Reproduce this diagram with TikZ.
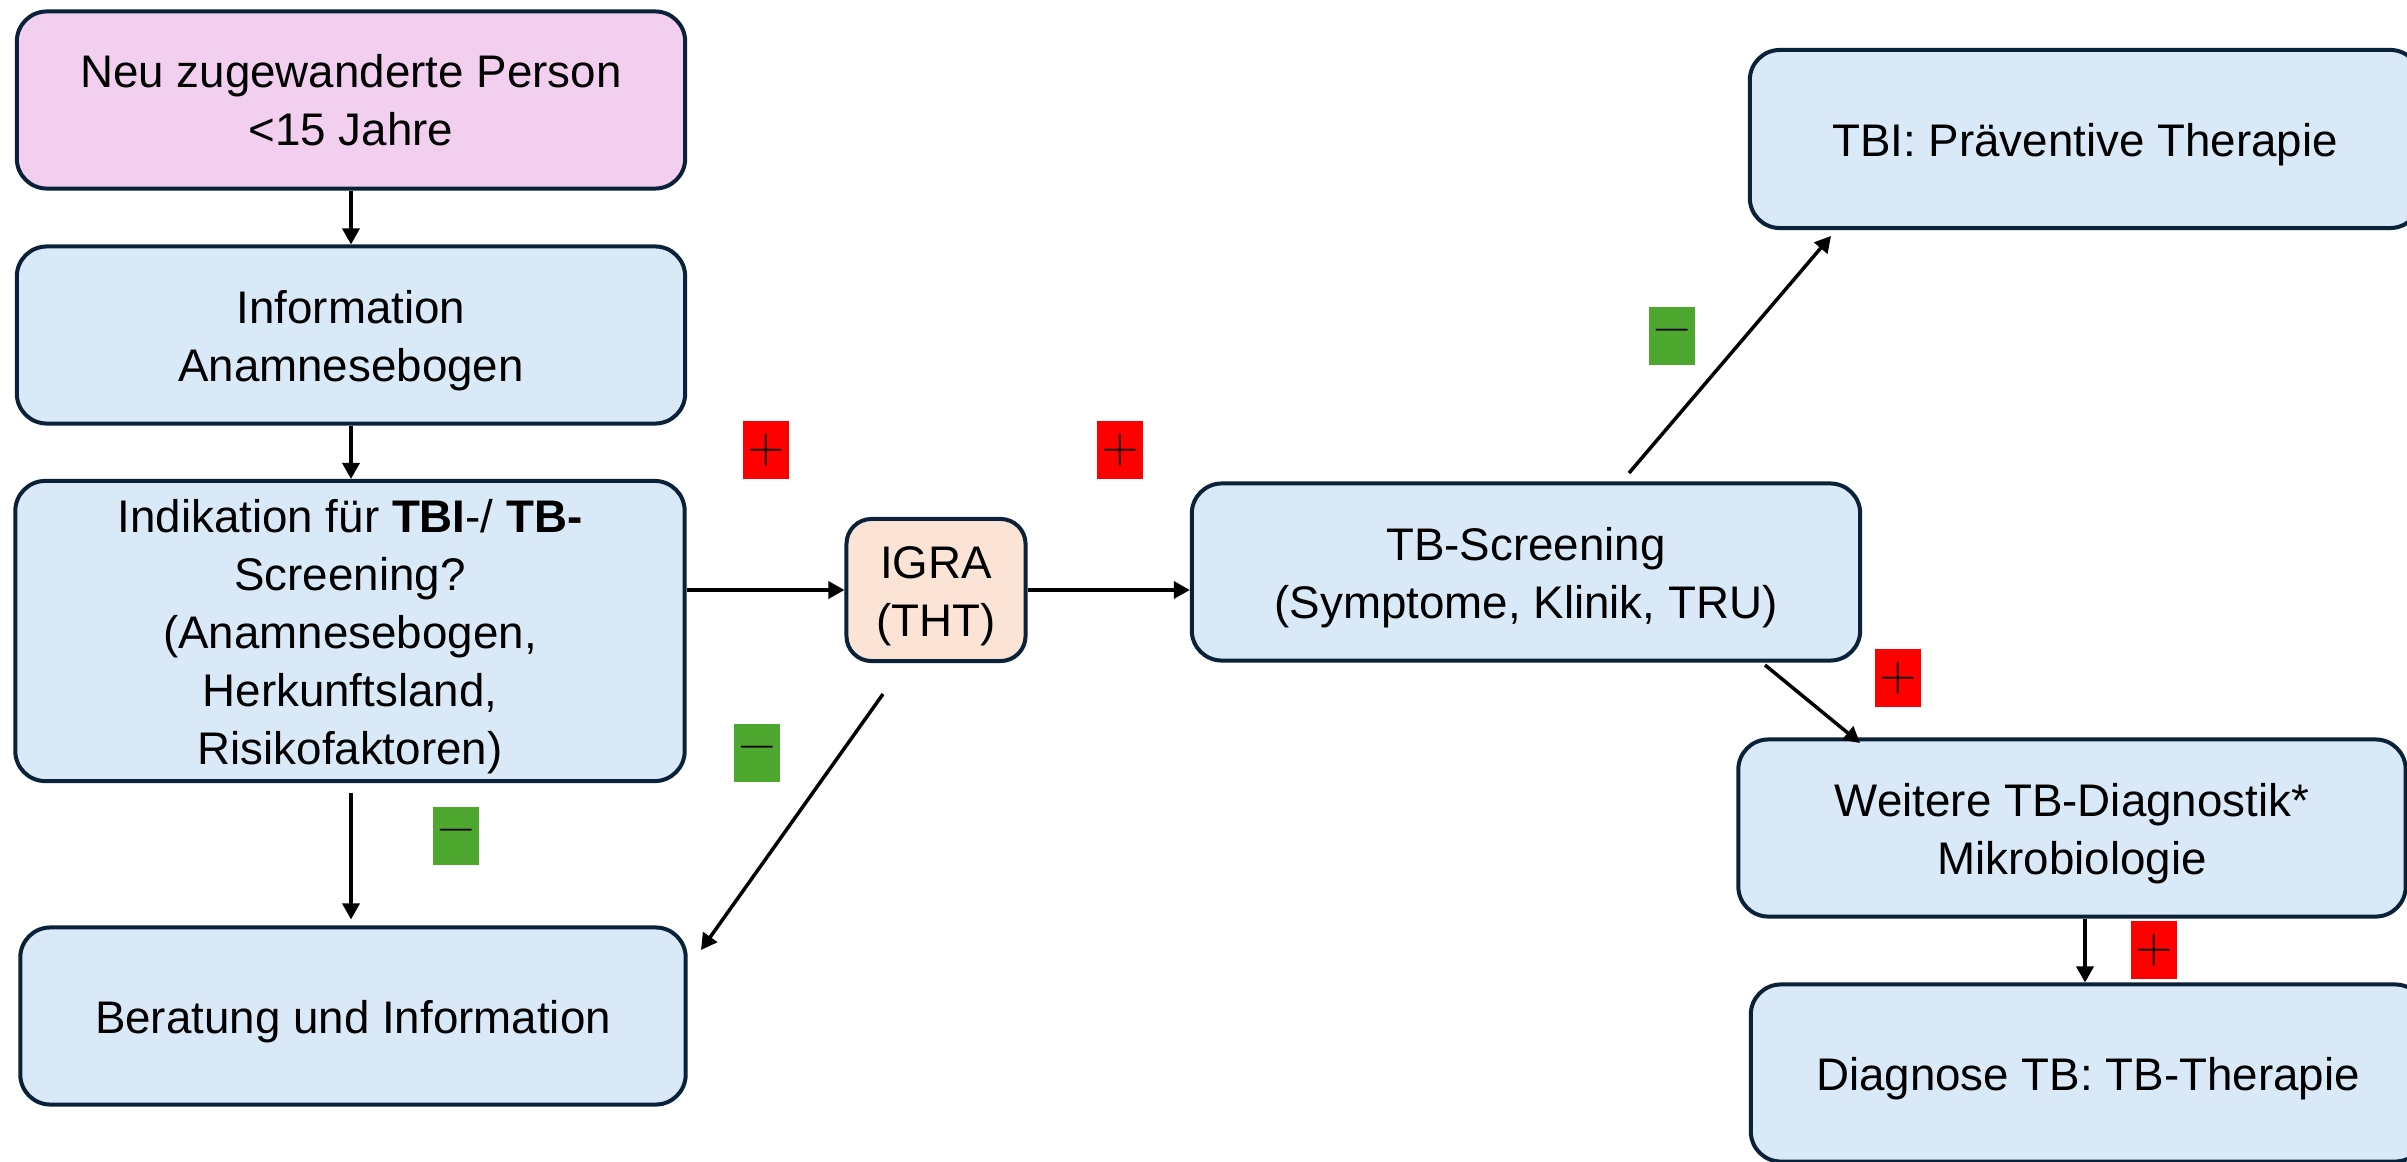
\documentclass[tikz,border=0pt]{standalone}
\usepackage{fontspec}
\setmainfont{Liberation Sans}
\newfontfamily\lmsign{Latin Modern Roman}
\usetikzlibrary{arrows.meta,calc}
\definecolor{pinkfill}{HTML}{F2CFEE}
\definecolor{bluefill}{HTML}{DAE9F7}
\definecolor{peachfill}{HTML}{FBE3D6}
\definecolor{bordercol}{HTML}{0A2239}
\definecolor{plusred}{HTML}{FF0000}
\definecolor{minusgreen}{HTML}{4EA72E}
\newcommand\boxtext[2][-1.7pt]{\raisebox{#1}[\height][\depth]{\begin{tabular}{@{}c@{}}#2\end{tabular}}}
\tikzset{
  box/.style={draw=bordercol, line width=0.04cm, rounded corners=0.3cm, align=center,
    fill=bluefill, minimum width=6.68cm, minimum height=1.77cm, inner sep=0pt,
    font=\fontsize{13}{16.5}\selectfont},
  arr/.style={line width=0.035cm, -{Triangle[length=0.16cm,width=0.17cm]}},
  signbox/.style={minimum width=0.46cm, minimum height=0.58cm, inner sep=0pt,
    font=\lmsign\fontsize{14}{14}\selectfont},
  plusbox/.style={signbox, fill=plusred},
  minusbox/.style={signbox, fill=minusgreen},
}
\begin{document}
\begin{tikzpicture}[x=0.01cm,y=-0.01cm]
\useasboundingbox (0,0) rectangle (2407,1161);
\clip (0,0) rectangle (2407,1161);
\fill[white] (0,0) rectangle (2407,1161);

\node[box, fill=pinkfill] (A) at (351,100) {\boxtext[-1.4pt]{Neu zugewanderte Person\\<15 Jahre}};
\node[box] (B) at (351,335) {\boxtext{Information\\Anamnesebogen}};
\node[box, minimum width=6.69cm, minimum height=3.0cm] (C) at (350,631)
  {\boxtext{Indikation für \textbf{TBI}-/ \textbf{TB-}\\Screening?\\(Anamnesebogen,\\Herkunftsland,\\Risikofaktoren)}};
\node[box, minimum width=6.65cm] (D) at (353,1016) {\boxtext{Beratung und Information}};
\node[box, fill=peachfill, minimum width=1.79cm, minimum height=1.42cm, rounded corners=0.25cm] (I) at (936,590) {\boxtext{IGRA\\(THT)}};
\node[box] (T) at (1526,572) {\boxtext{TB-Screening\\(Symptome, Klinik, TRU)}};
\node[box, minimum width=6.70cm, minimum height=1.78cm] (P) at (2085,139) {\boxtext{TBI: Präventive Therapie}};
\node[box, minimum width=6.67cm] (W) at (2072,828) {\boxtext{Weitere TB-Diagnostik*\\Mikrobiologie}};
\node[box, minimum width=6.74cm] (G) at (2088,1073) {\boxtext{Diagnose TB: TB-Therapie}};

% free connector ends
\coordinate (Lx) at (351,0);
\coordinate (Istart) at (883,694);
\coordinate (Dend) at (701,950);
\coordinate (Tup) at (1629,473);
\coordinate (Pend) at (1831,236);
\coordinate (Tdown) at (1765,665);
\coordinate (Wend) at (1860,743);
\coordinate (Wx) at (2085,0);

\draw[arr] (A.south) -- (B.north);
\draw[arr] (B.south) -- (C.north -| Lx);
\draw[arr] (C.east |- I.west) -- (I.west);
\draw[arr, shorten <=0.1cm, shorten >=0.06cm] (C.south -| Lx) -- (D.north -| Lx);
\draw[arr] (Istart) -- (Dend);
\draw[arr] (I.east) -- (I.east -| T.west);
\draw[arr] (Tup) -- (Pend);
\draw[arr] (Tdown) -- (Wend);
\draw[arr] (W.south -| Wx) -- (G.north -| Wx);

\node[plusbox] (p1) at (766,450) {+};
\node[plusbox] (p2) at (1120,450) {+};
\node[plusbox] (p3) at (1898,678) {+};
\node[plusbox] (p4) at (2154,950) {+};
\node[minusbox] (m1) at (456,836) {−};
\node[minusbox] (m2) at (757,753) {−};
\node[minusbox] (m3) at (1672,336) {−};
\end{tikzpicture}
\end{document}
